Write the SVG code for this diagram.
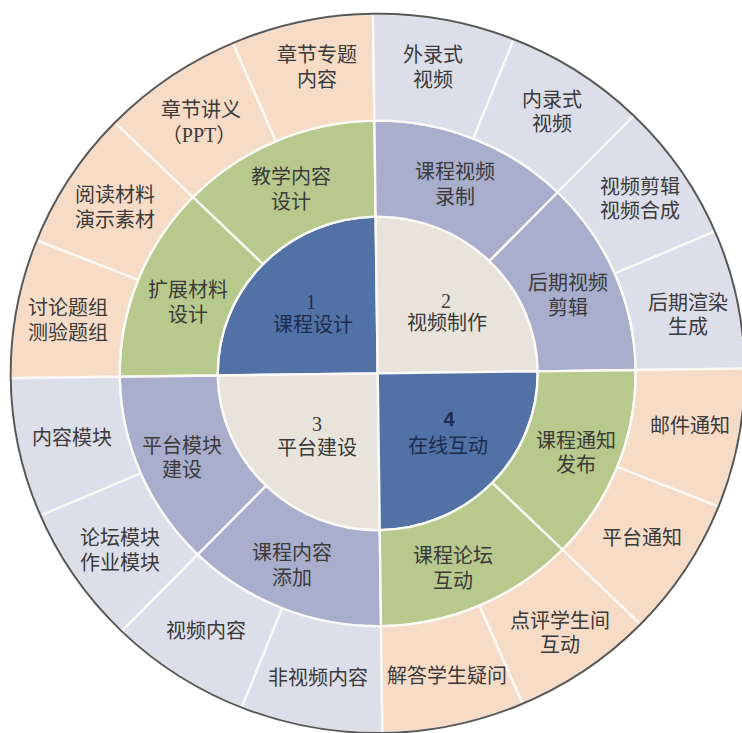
<svg xmlns="http://www.w3.org/2000/svg" width="742" height="733" viewBox="0 0 742 733">
<style>
.sec{stroke:#fbfaf6;stroke-width:2.4;stroke-linejoin:round}
.pe{fill:#f6dcc6}.gr{fill:#b8c98d}.bl{fill:#5272a5}.lv{fill:#a8aecb}.ll{fill:#dcdee9}.bg{fill:#e8e3db}
.t{font-family:"Liberation Sans","Noto Sans CJK SC",sans-serif;font-size:20px;fill:#3a3a3a;text-anchor:middle;dominant-baseline:central}
.tn{fill:#1c2a4d}
.num{font-family:"Liberation Serif",serif}
.numb{font-family:"Liberation Sans",sans-serif;font-weight:bold}
.ppt{font-family:"Liberation Serif","Noto Sans CJK SC",serif}
</style>
<rect width="742" height="733" fill="#ffffff"/>

<!-- Quadrant 1: 课程设计 -->
<g id="q1-center">
<path class="sec bl" transform="translate(377.7 373.4) rotate(-0.75) scale(1 .98)" d="M0 0L-160 0A160 160 0 0 1 0 -160Z"/>
<text class="t tn"><tspan class="num" x="311" y="302">1</tspan><tspan x="313" y="325">课程设计</tspan></text>
</g>
<g id="q1-m-kuozhan">
<path class="sec gr" transform="translate(377.7 373.4) rotate(-0.75) scale(1 .98)" d="M-160 0L-258 0A258 258 0 0 1 -182.43 -182.43L-113.14 -113.14A160 160 0 0 0 -160 0Z"/>
<text class="t"><tspan x="188" y="290">扩展材料</tspan><tspan x="188" y="315">设计</tspan></text>
</g>
<g id="q1-m-jiaoxue">
<path class="sec gr" transform="translate(377.7 373.4) rotate(-0.75) scale(1 .98)" d="M-113.14 -113.14L-182.43 -182.43A258 258 0 0 1 0 -258L0 -160A160 160 0 0 0 -113.14 -113.14Z"/>
<text class="t"><tspan x="291" y="177">教学内容</tspan><tspan x="291" y="202">设计</tspan></text>
</g>
<g id="q1-o-taolun">
<path class="sec pe" transform="translate(377.7 373.4) rotate(-0.75) scale(1 .98)" d="M-258 0L-367 0A367 367 0 0 1 -339.06 -140.44L-238.36 -98.73A258 258 0 0 0 -258 0Z"/>
<text class="t"><tspan x="68" y="308">讨论题组</tspan><tspan x="68" y="333">测验题组</tspan></text>
</g>
<g id="q1-o-yuedu">
<path class="sec pe" transform="translate(377.7 373.4) rotate(-0.75) scale(1 .98)" d="M-238.36 -98.73L-339.06 -140.44A367 367 0 0 1 -259.51 -259.51L-182.43 -182.43A258 258 0 0 0 -238.36 -98.73Z"/>
<text class="t"><tspan x="115" y="195">阅读材料</tspan><tspan x="115" y="220">演示素材</tspan></text>
</g>
<g id="q1-o-jiangyi">
<path class="sec pe" transform="translate(377.7 373.4) rotate(-0.75) scale(1 .98)" d="M-182.43 -182.43L-259.51 -259.51A367 367 0 0 1 -140.44 -339.06L-98.73 -238.36A258 258 0 0 0 -182.43 -182.43Z"/>
<text class="t"><tspan x="201" y="110">章节讲义</tspan><tspan class="ppt" x="199" y="135">（PPT）</tspan></text>
</g>
<g id="q1-o-zhuanti">
<path class="sec pe" transform="translate(377.7 373.4) rotate(-0.75) scale(1 .98)" d="M-98.73 -238.36L-140.44 -339.06A367 367 0 0 1 0 -367L0 -258A258 258 0 0 0 -98.73 -238.36Z"/>
<text class="t"><tspan x="317" y="55">章节专题</tspan><tspan x="317" y="80">内容</tspan></text>
</g>

<!-- Quadrant 2: 视频制作 -->
<g id="q2-center">
<path class="sec bg" transform="translate(377.7 373.4) rotate(-0.75) scale(1 .98)" d="M0 0L0 -160A160 160 0 0 1 160 0Z"/>
<text class="t"><tspan class="num" x="446" y="301">2</tspan><tspan x="447" y="323">视频制作</tspan></text>
</g>
<g id="q2-m-luzhi">
<path class="sec lv" transform="translate(377.7 373.4) rotate(-0.75) scale(1 .98)" d="M0 -160L0 -258A258 258 0 0 1 182.43 -182.43L113.14 -113.14A160 160 0 0 0 0 -160Z"/>
<text class="t"><tspan x="455" y="172">课程视频</tspan><tspan x="455" y="197">录制</tspan></text>
</g>
<g id="q2-m-jianji">
<path class="sec lv" transform="translate(377.7 373.4) rotate(-0.75) scale(1 .98)" d="M113.14 -113.14L182.43 -182.43A258 258 0 0 1 258 0L160 0A160 160 0 0 0 113.14 -113.14Z"/>
<text class="t"><tspan x="568" y="283">后期视频</tspan><tspan x="568" y="308">剪辑</tspan></text>
</g>
<g id="q2-o-wailu">
<path class="sec ll" transform="translate(377.7 373.4) rotate(-0.75) scale(1 .98)" d="M0 -258L0 -367A367 367 0 0 1 140.44 -339.06L98.73 -238.36A258 258 0 0 0 0 -258Z"/>
<text class="t"><tspan x="433" y="55">外录式</tspan><tspan x="433" y="80">视频</tspan></text>
</g>
<g id="q2-o-neilu">
<path class="sec ll" transform="translate(377.7 373.4) rotate(-0.75) scale(1 .98)" d="M98.73 -238.36L140.44 -339.06A367 367 0 0 1 259.51 -259.51L182.43 -182.43A258 258 0 0 0 98.73 -238.36Z"/>
<text class="t"><tspan x="552" y="100">内录式</tspan><tspan x="552" y="124">视频</tspan></text>
</g>
<g id="q2-o-hecheng">
<path class="sec ll" transform="translate(377.7 373.4) rotate(-0.75) scale(1 .98)" d="M182.43 -182.43L259.51 -259.51A367 367 0 0 1 339.06 -140.44L238.36 -98.73A258 258 0 0 0 182.43 -182.43Z"/>
<text class="t"><tspan x="640" y="187">视频剪辑</tspan><tspan x="640" y="211">视频合成</tspan></text>
</g>
<g id="q2-o-xuanran">
<path class="sec ll" transform="translate(377.7 373.4) rotate(-0.75) scale(1 .98)" d="M238.36 -98.73L339.06 -140.44A367 367 0 0 1 367 0L258 0A258 258 0 0 0 238.36 -98.73Z"/>
<text class="t"><tspan x="688" y="303">后期渲染</tspan><tspan x="688" y="327">生成</tspan></text>
</g>

<!-- Quadrant 3: 平台建设 -->
<g id="q3-center">
<path class="sec bg" transform="translate(377.7 373.4) rotate(-0.75) scale(1 .98)" d="M0 0L0 160A160 160 0 0 1 -160 0Z"/>
<text class="t"><tspan class="num" x="317" y="424">3</tspan><tspan x="317" y="448">平台建设</tspan></text>
</g>
<g id="q3-m-neirong">
<path class="sec lv" transform="translate(377.7 373.4) rotate(-0.75) scale(1 .98)" d="M0 160L0 258A258 258 0 0 1 -182.43 182.43L-113.14 113.14A160 160 0 0 0 0 160Z"/>
<text class="t"><tspan x="292" y="553">课程内容</tspan><tspan x="292" y="578">添加</tspan></text>
</g>
<g id="q3-m-mokuai">
<path class="sec lv" transform="translate(377.7 373.4) rotate(-0.75) scale(1 .98)" d="M-113.14 113.14L-182.43 182.43A258 258 0 0 1 -258 0L-160 0A160 160 0 0 0 -113.14 113.14Z"/>
<text class="t"><tspan x="182" y="446">平台模块</tspan><tspan x="182" y="470">建设</tspan></text>
</g>
<g id="q3-o-feishipin">
<path class="sec ll" transform="translate(377.7 373.4) rotate(-0.75) scale(1 .98)" d="M0 258L0 367A367 367 0 0 1 -140.44 339.06L-98.73 238.36A258 258 0 0 0 0 258Z"/>
<text class="t"><tspan x="318" y="678">非视频内容</tspan></text>
</g>
<g id="q3-o-shipin">
<path class="sec ll" transform="translate(377.7 373.4) rotate(-0.75) scale(1 .98)" d="M-98.73 238.36L-140.44 339.06A367 367 0 0 1 -259.51 259.51L-182.43 182.43A258 258 0 0 0 -98.73 238.36Z"/>
<text class="t"><tspan x="206" y="631">视频内容</tspan></text>
</g>
<g id="q3-o-luntan">
<path class="sec ll" transform="translate(377.7 373.4) rotate(-0.75) scale(1 .98)" d="M-182.43 182.43L-259.51 259.51A367 367 0 0 1 -339.06 140.44L-238.36 98.73A258 258 0 0 0 -182.43 182.43Z"/>
<text class="t"><tspan x="120" y="538">论坛模块</tspan><tspan x="120" y="563">作业模块</tspan></text>
</g>
<g id="q3-o-neirongmokuai">
<path class="sec ll" transform="translate(377.7 373.4) rotate(-0.75) scale(1 .98)" d="M-238.36 98.73L-339.06 140.44A367 367 0 0 1 -367 0L-258 0A258 258 0 0 0 -238.36 98.73Z"/>
<text class="t"><tspan x="72" y="438">内容模块</tspan></text>
</g>

<!-- Quadrant 4: 在线互动 -->
<g id="q4-center">
<path class="sec bl" transform="translate(377.7 373.4) rotate(-0.75) scale(1 .98)" d="M0 0L160 0A160 160 0 0 1 0 160Z"/>
<text class="t tn"><tspan class="numb" x="449" y="419">4</tspan><tspan x="448" y="446">在线互动</tspan></text>
</g>
<g id="q4-m-tongzhi">
<path class="sec gr" transform="translate(377.7 373.4) rotate(-0.75) scale(1 .98)" d="M160 0L258 0A258 258 0 0 1 182.43 182.43L113.14 113.14A160 160 0 0 0 160 0Z"/>
<text class="t"><tspan x="576" y="441">课程通知</tspan><tspan x="576" y="465">发布</tspan></text>
</g>
<g id="q4-m-luntan">
<path class="sec gr" transform="translate(377.7 373.4) rotate(-0.75) scale(1 .98)" d="M113.14 113.14L182.43 182.43A258 258 0 0 1 0 258L0 160A160 160 0 0 0 113.14 113.14Z"/>
<text class="t"><tspan x="453" y="556">课程论坛</tspan><tspan x="453" y="581">互动</tspan></text>
</g>
<g id="q4-o-youjian">
<path class="sec pe" transform="translate(377.7 373.4) rotate(-0.75) scale(1 .98)" d="M258 0L367 0A367 367 0 0 1 339.06 140.44L238.36 98.73A258 258 0 0 0 258 0Z"/>
<text class="t"><tspan x="690" y="426">邮件通知</tspan></text>
</g>
<g id="q4-o-pingtai">
<path class="sec pe" transform="translate(377.7 373.4) rotate(-0.75) scale(1 .98)" d="M238.36 98.73L339.06 140.44A367 367 0 0 1 259.51 259.51L182.43 182.43A258 258 0 0 0 238.36 98.73Z"/>
<text class="t"><tspan x="642" y="538">平台通知</tspan></text>
</g>
<g id="q4-o-dianping">
<path class="sec pe" transform="translate(377.7 373.4) rotate(-0.75) scale(1 .98)" d="M182.43 182.43L259.51 259.51A367 367 0 0 1 140.44 339.06L98.73 238.36A258 258 0 0 0 182.43 182.43Z"/>
<text class="t"><tspan x="560" y="621">点评学生间</tspan><tspan x="560" y="645">互动</tspan></text>
</g>
<g id="q4-o-jieda">
<path class="sec pe" transform="translate(377.7 373.4) rotate(-0.75) scale(1 .98)" d="M98.73 238.36L140.44 339.06A367 367 0 0 1 0 367L0 258A258 258 0 0 0 98.73 238.36Z"/>
<text class="t"><tspan x="447" y="676">解答学生疑问</tspan></text>
</g>

<g id="outline">
<circle cx="0" cy="0" r="367" fill="none" stroke="#585858" stroke-width="2" transform="translate(377.7 373.4) rotate(-0.75) scale(1 .98)"/>
</g>
</svg>
